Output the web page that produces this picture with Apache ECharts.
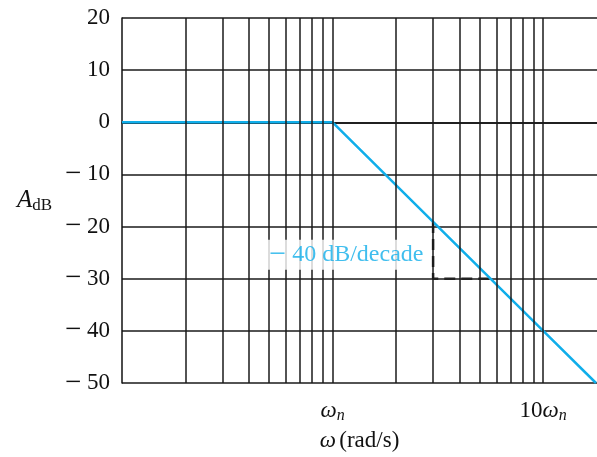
<!DOCTYPE html>
<html><head><meta charset="utf-8">
<script src="https://cdn.jsdelivr.net/npm/echarts@6/dist/echarts.min.js"></script>
<style>html,body{margin:0;padding:0;background:#fff}#c{width:597px;height:457px}</style>
</head><body><div id="c"></div>
<script>
// Data
const asymptote = [[0.1, 0], [1, 0], [10, -40], [17.8, -50]];
const slopeTriangle = [[3, -19.1], [3, -30], [5.62, -30]];
const gridFreqs = [0.2,0.3,0.4,0.5,0.6,0.7,0.8,0.9,1,2,3,4,5,6,7,8,9,10];
const xTickValues = [1, 10];
const yTicks = [-50,-40,-30,-20,-10,0,10,20];
const slopeLabel = '{m|−}{t| 40 dB/decade}';

const FONT = 'Liberation Serif';
const BLUE = '#10aeea';
const INK = '#111';
const chart = echarts.init(document.getElementById('c'));
chart.setOption({
  animation: false,
  grid: {left: 122, right: 0, top: 18, bottom: 72},
  xAxis: {
    type: 'log', logBase: 10, min: 0.1, max: 18,
    name: '{w|ω} {t|(rad/s)}', nameLocation: 'middle', nameGap: 46,
    nameTextStyle: {rich: {
      w: {fontFamily: FONT, fontSize: 23, fontStyle: 'italic', color: INK},
      t: {fontFamily: FONT, fontSize: 23, color: INK}
    }},
    axisLine: {show: true, lineStyle: {color: INK, width: 1.5}},
    axisTick: {show: false},
    splitLine: {show: false},
    axisLabel: {
      customValues: xTickValues, margin: 14,
      formatter: v => (v >= 5 ? '{r|10}' : '') + '{w|ω}{n|n}',
      rich: {
        r: {fontFamily: FONT, fontSize: 23, color: INK},
        w: {fontFamily: FONT, fontSize: 23, fontStyle: 'italic', color: INK},
        n: {fontFamily: FONT, fontSize: 16, fontStyle: 'italic', color: INK, padding: [11, 0, 0, 0]}
      }
    }
  },
  yAxis: {
    type: 'value', min: -50, max: 20, interval: 10,
    name: '{a|A}{s|dB}', nameLocation: 'middle', nameRotate: 0, nameGap: 70,
    nameTextStyle: {rich: {
      a: {fontFamily: FONT, fontSize: 25, fontStyle: 'italic', color: INK},
      s: {fontFamily: FONT, fontSize: 17, color: INK, padding: [11, 0, 0, 0]}
    }},
    axisLine: {show: true, lineStyle: {color: INK, width: 1.5}},
    axisTick: {show: false},
    splitLine: {show: true, lineStyle: {color: '#1a1a1a', width: 1.5}},
    axisLabel: {margin: 12,
      formatter: v => (v < 0 ? '{m|−}{d| ' + Math.abs(v) + '}' : '{d|' + v + '}'),
      rich: {
        m: {fontFamily: FONT, fontSize: 29, color: INK},
        d: {fontFamily: FONT, fontSize: 23, color: INK}
      }
    }
  },
  series: [
    {
      type: 'line', data: [], silent: true,
      markLine: {
        silent: true, symbol: 'none', label: {show: false},
        lineStyle: {color: '#1a1a1a', width: 1.5, type: 'solid'},
        data: gridFreqs.map(f => ({xAxis: f}))
      }
    },
    {
      type: 'line', data: slopeTriangle, symbol: 'none', silent: true,
      lineStyle: {color: '#222', width: 2.5, type: [11, 6]}, z: 3
    },
    {
      type: 'line', data: asymptote, symbol: 'none', silent: true,
      lineStyle: {color: BLUE, width: 2.5}, z: 4
    },
    {
      type: 'scatter', data: [[2.76, -25.4]], symbolSize: 0, silent: true, z: 5,
      label: {show: true, position: 'left', distance: 0, formatter: slopeLabel,
        backgroundColor: '#fff', padding: [0, 2, 0, 2],
        rich: {
          m: {fontFamily: FONT, fontSize: 30, color: BLUE},
          t: {fontFamily: FONT, fontSize: 24, color: BLUE}
        }}
    }
  ]
});
</script></body></html>
